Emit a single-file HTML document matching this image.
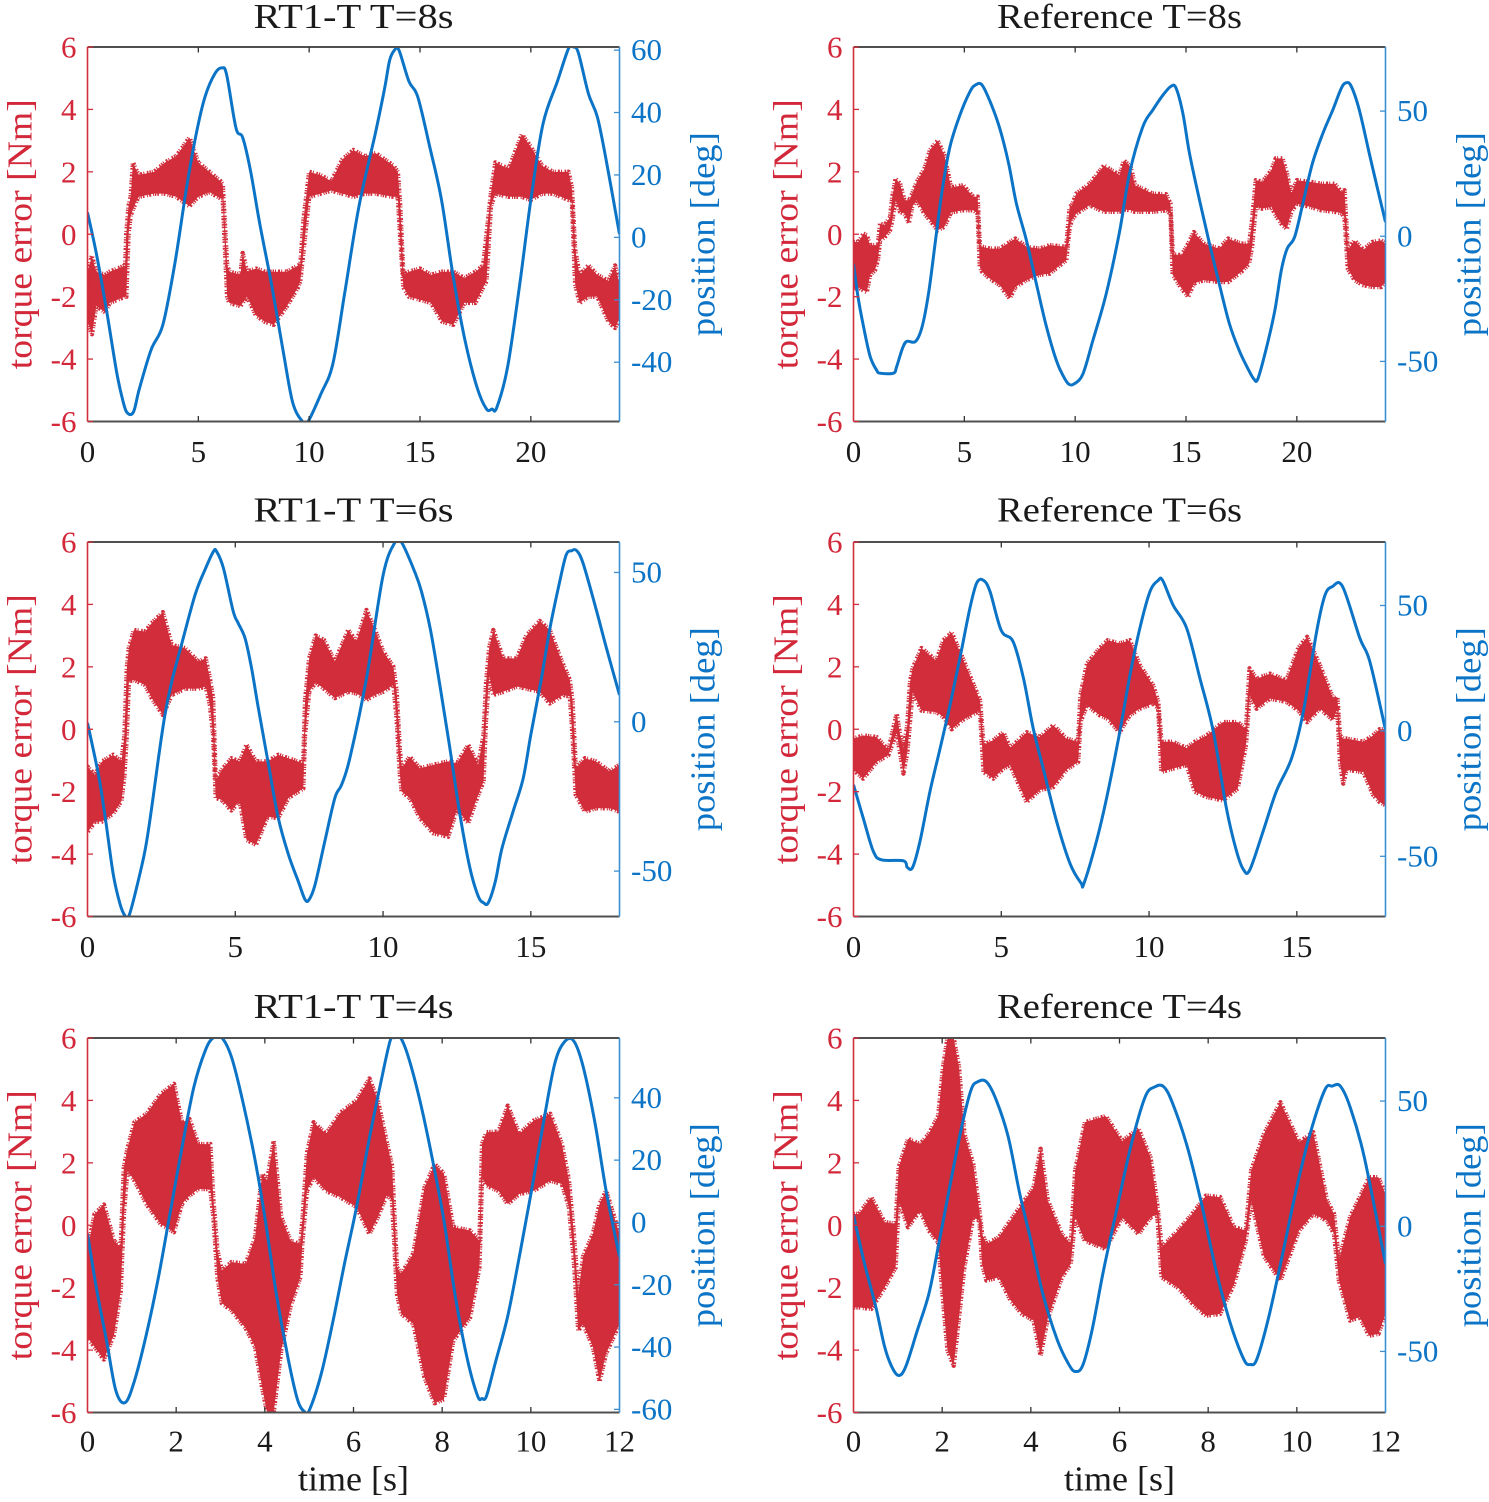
<!DOCTYPE html>
<html lang="en">
<head>
<meta charset="utf-8">
<title>Torque error and position: RT1-T vs Reference</title>
<style>
html,body{margin:0;padding:0;background:#fff;}
svg{display:block;}
text{font-family:"Liberation Serif",serif;}
</style>
</head>
<body>
<svg id="figure" xmlns="http://www.w3.org/2000/svg" width="1489" height="1502" viewBox="0 0 1489 1502"></svg>
<script>
// Shared tick labels
const torqueTicks = [-6, -4, -2, 0, 2, 4, 6];
const xTicksT8 = [0, 5, 10, 15, 20];
const xTicksT6 = [0, 5, 10, 15];
const xTicksT4 = [0, 2, 4, 6, 8, 10, 12];
const posTicksRt8 = [-40, -20, 0, 20, 40, 60];
const posTicksRt6 = [-50, 0, 50];
const posTicksRt4 = [-60, -40, -20, 0, 20, 40];
const posTicksRef = [-50, 0, 50];

// RT1-T T=8s
const rt8PosT = [0,.4,.85,1.3,1.55,1.77,2.07,2.34,2.87,3.4,3.94,4.47,4.9,5.3,5.75,6.07,6.28,6.7,7,7.35,7.77,8.3,8.84,9.26,9.7,9.95,10.54,11.07,11.6,12.24,13,13.4,13.63,13.85,14.05,14.5,14.9,15.44,15.97,16.5,17.03,17.57,18,18.25,18.46,18.95,19.5,20,20.55,21.2,21.7,21.93,22.15,22.6,23,23.4,24];
const rt8PosDeg = [8,-5.2,-23,-42.6,-51,-56,-56,-48.5,-36,-28,-8.4,16,33,45,52.5,54.3,52,35,32,21.5,4.4,-15,-37,-53,-59,-59,-50,-40.5,-18,9.7,33.8,47.6,56.7,60,60,50,45,29,12,-12.7,-33,-48,-55,-55,-54.6,-41.6,-15,12,36.4,50,60.5,61,59,46,38.6,24.7,1];
const rt8ErrT = [0,.2,.4,.8,1,1.7,1.75,1.85,1.95,2.05,2.3,3,3.5,4,4.6,5,5.5,6,6.1,6.3,6.4,6.9,7,7.2,7.6,8,8.4,9,9.5,9.6,9.75,10,10.5,11,11.5,12,12.5,13,13.8,14,14.1,14.25,14.5,15,15.5,16,16.5,17,17.5,17.85,18,18.2,18.4,19,19.6,20,20.5,21,21.7,21.85,22,22.2,22.6,23,23.5,23.8,24];
const rt8ErrHi = [-1.2,-.7,-1.2,-1.3,-1.2,-1,0,.9,1.2,2.3,1.9,2,2.3,2.5,3.1,2.3,2,1.7,1.6,-1,-1.2,-1.3,-.6,-1.2,-1.1,-1.2,-1.2,-1.2,-1,-1,.5,2,1.9,1.7,2.4,2.7,2.5,2.6,2.2,2,1,-1.3,-1.2,-1.1,-1.3,-1.2,-1.2,-1.4,-1.2,-1,0,1.3,2.3,2.1,3.2,2.8,2.2,2,2,1.5,-.5,-1.3,-1,-1.3,-1.5,-1,-1.6];
const rt8ErrLo = [-2.8,-3.2,-2.3,-2.5,-2.2,-2,-2,0,.6,.8,1.2,1.3,1.3,1.2,.9,1.2,1.35,1.15,1.15,-2,-2.2,-2.3,-2.2,-2,-2.6,-2.8,-2.9,-2.3,-1.7,-1.5,-.5,1.2,1.3,1.4,1.3,1.2,1.3,1.3,1.2,1.2,0,-1.7,-2,-2.1,-2.2,-2.8,-2.9,-2.2,-2.2,-1.7,-1.5,.9,1.3,1.2,1.2,1.1,1.3,1.3,1.1,1.1,-1.6,-2.2,-2,-2,-2.8,-3,-2.7];

// Reference T=8s
const ref8PosT = [0,.2,.45,.75,1.05,1.2,1.8,1.95,2.2,2.4,2.8,3.1,3.4,3.7,4,4.35,4.8,5.25,5.5,5.8,6.2,6.6,7,7.35,7.8,8.25,8.7,9.15,9.45,9.7,9.95,10.35,10.8,11.4,12,12.45,13.05,13.5,13.96,14.34,14.56,14.86,15.16,15.61,16.06,16.5,16.96,17.4,17.8,18.06,18.24,18.6,19,19.3,19.56,19.9,20.27,20.7,21.17,21.62,22,22.22,22.45,22.82,23.27,23.72,24];
const ref8PosDeg = [-11,-24,-36,-48,-53.6,-54.7,-54.7,-52,-45,-42,-42,-36,-22,-1.6,18.4,35.7,48.4,57.7,60.4,60.4,53,43,29,13,-1.6,-19,-36,-49.6,-55.6,-59,-59,-55,-41.6,-23,1.7,25,43.7,50.4,56.4,60,59,49,33,14.4,-3,-19,-35,-45.6,-53,-57,-57,-45.6,-30,-13.6,-5,-.3,13,29,41,50.4,59,61.3,60,50.4,33,16,5.7];
const ref8ErrT = [0,.22,.45,.6,.75,.97,1.1,1.2,1.4,1.65,1.75,1.9,2.1,2.3,2.5,2.65,2.85,3.2,3.45,3.8,4.1,4.4,4.95,5.4,5.6,5.7,5.8,6.15,6.6,7.05,7.3,7.8,8.4,8.85,9.6,9.75,9.85,10.05,10.65,11.3,12,12.2,12.5,12.7,13.5,14.1,14.3,14.4,14.5,14.8,15.1,15.35,15.8,16.5,16.9,17.5,17.85,17.98,18.15,18.45,18.85,19.05,19.35,19.55,19.75,20,20.6,21.1,21.7,22,22.15,22.3,22.6,23,23.4,23.8,24];
const ref8ErrHi = [-.25,-.25,.02,-.03,-.35,-.35,-.35,.34,.29,.55,1.2,1.78,1.62,1.09,1.09,1.3,1.67,2.1,2.7,3,2.53,1.5,1.57,1.2,1.2,-.4,-.4,-.46,-.46,-.25,-.14,-.4,-.46,-.35,-.4,.87,.93,1.3,1.62,2.2,1.9,2.37,2.16,1.57,1.3,1.28,.98,-.62,-.65,-.67,-.3,.07,-.3,-.46,-.14,-.3,-.3,.45,1.73,1.68,2.05,2.43,2.43,1.95,1.3,1.73,1.68,1.62,1.62,1.36,1.41,-.5,-.2,-.5,-.25,-.2,-.3];
const ref8ErrLo = [-1.75,-1.7,-1.8,-1.85,-1.3,-1.15,-.83,-.2,-.1,.13,.45,1.09,.72,.66,.36,.88,1.09,.66,.45,.13,.24,.7,.77,.77,.66,-1.05,-1.2,-1.42,-1.63,-2.06,-1.69,-1.47,-1.3,-1.26,-.83,.23,.45,.66,.93,.72,.72,.8,.77,.72,.72,.77,.66,-1.3,-1.4,-1.74,-2,-1.58,-1.47,-1.53,-1.53,-1.2,-.94,-.4,.88,.82,.88,.6,.29,.18,.72,.98,.88,.77,.72,.68,.55,-1.1,-1.47,-1.63,-1.69,-1.69,-1.53];

// RT1-T T=6s
const rt6PosT = [0,.37,.6,.87,1.1,1.27,1.4,1.6,1.94,2.17,2.4,2.62,2.85,3.18,3.64,3.97,4.26,4.37,4.6,4.93,5.1,5.33,5.55,5.78,6.1,6.45,6.8,7.13,7.36,7.5,7.7,8.03,8.37,8.6,8.88,9.44,10,10.4,10.63,11.08,11.3,11.6,11.92,12.26,12.6,12.94,13.22,13.4,13.56,13.8,14.02,14.4,14.74,15,15.36,15.64,16,16.2,16.38,16.55,16.77,17.2,17.56,18];
const rt6PosDeg = [-.4,-17.7,-32,-51,-61,-65,-65,-58,-43.4,-28.9,-12.2,2.3,13.5,25.8,42.5,50.8,57,57,51.4,37,33,28,18,4.6,-13,-32,-44.5,-53.4,-59.5,-59.5,-54.5,-40,-25.5,-21,-12,14.6,49,60,60,50,43.6,31,12.4,-8.8,-31,-49,-58.4,-60.6,-60.6,-53.4,-42.5,-30,-19,-4.3,14.6,31,48,56,57.3,57.3,53,38,24.6,9];
const rt6ErrT = [0,.25,.48,.87,1.15,1.25,1.33,1.4,1.57,1.95,2.17,2.55,2.85,3.3,3.75,4,4.14,4.25,4.34,4.54,4.87,5.15,5.38,5.7,6.1,6.45,6.8,7.3,7.36,7.5,7.72,8,8.37,8.82,9.1,9.44,9.73,10,10.35,10.46,10.57,10.63,10.9,11.25,11.7,12.2,12.5,12.88,13.22,13.4,13.48,13.59,13.73,14.07,14.52,14.85,15.3,15.64,16.1,16.32,16.41,16.52,16.83,17.2,17.67,18];
const rt6ErrHi = [-1.2,-1.46,-1.04,-.82,-1.04,-.18,1.95,2.6,3.18,3.13,3.4,3.75,2.7,2.6,2.17,2.27,1.63,1,-1.67,-1.3,-.93,-1.03,-.5,-1.03,-1.03,-.82,-.93,-1.09,.9,2.27,3,2.86,2.17,3.18,2.8,3.82,3.18,2.5,2,1.2,-.7,-1.25,-.88,-1.25,-1.14,-1.03,-1.09,-.5,-1.14,-.18,1.4,2.6,3.18,2.27,2.27,3,3.47,3.18,2.06,1.58,.9,-1.25,-.93,-1.03,-1.35,-1.14];
const rt6ErrLo = [-3.3,-2.96,-2.96,-2.7,-2.3,-1.46,-.18,1.53,1.58,1.42,1,.46,1.1,1.3,1.3,1.37,.78,-.18,-2.2,-2.26,-2.6,-2.3,-3.54,-3.7,-2.8,-2.85,-2.2,-1.9,-.18,1.2,1.5,1.3,1,1.2,1.15,.94,1.1,1.2,1.42,.35,-1.46,-2,-2.2,-2.85,-3.33,-3.44,-2.58,-3,-2.1,-1.68,.25,1.74,1.1,1.2,1.37,1.3,1.2,.83,1.1,1.05,-.18,-2.1,-2.64,-2.53,-2.53,-2.64];

// Reference T=6s
const ref6PosT = [0,.33,.67,.95,1.69,1.82,2,2.25,2.59,2.93,3.26,3.6,3.94,4.17,4.4,4.62,5,5.4,5.75,6.08,6.42,6.87,7.33,7.7,7.8,8.22,8.56,9,9.35,9.69,10.03,10.31,10.46,10.82,11.27,11.72,12.17,12.62,12.96,13.2,13.41,13.86,14.31,14.82,15.22,15.67,15.95,16.2,16.55,17.13,17.47,18];
const ref6PosDeg = [-21.5,-34.8,-48,-51.4,-51.8,-54.4,-54.4,-44,-24,-7,10,29,49,59,60,55.5,40,35.6,21,1,-15,-36,-53,-60.7,-60.7,-44,-27,-1,22,41,55.5,60,60,50,41,21,0,-31,-48,-55.4,-55.4,-40,-24,-11,7.7,39.6,54,57.5,57.5,37,27.6,.4];
const ref6ErrT = [0,.33,.78,1.18,1.46,1.57,1.69,1.82,1.91,2,2.3,2.8,3.04,3.32,3.7,4.28,4.4,4.73,5.07,5.3,5.86,6.3,6.76,7.2,7.6,7.68,7.9,8.33,8.6,9,9.35,9.69,10.14,10.31,10.42,10.8,11.27,11.55,11.95,12.5,13,13.28,13.4,13.64,14.09,14.65,15.05,15.35,15.78,16.23,16.37,16.46,16.57,16.68,17.25,17.58,17.8,18];
const ref6ErrHi = [-.3,-.2,-.25,-.67,.5,-.13,-.6,.13,1.5,1.95,2.6,2.2,2.85,3.1,2.26,.93,-.5,-.35,-.1,-.6,-.1,-.25,.13,-.3,-.4,1.1,2.1,2.6,2.85,2.75,2.85,2.05,1.4,.88,-.4,-.4,-.6,-.4,-.2,.23,.23,0,1.95,1.62,1.78,1.57,2.6,2.96,2.05,.98,1.04,-.2,-.3,-.3,-.4,-.2,0,0];
const ref6ErrLo = [-1.3,-1.58,-1.05,-.83,-.1,-.73,-1.42,-.73,.23,1.2,.6,.55,.4,0,.3,.6,-1.37,-1.58,-1.26,-1.15,-2.33,-1.95,-1.85,-1.3,-1.05,.23,.77,.45,.34,-.1,.45,.66,.82,.66,-1.37,-1.26,-1.15,-2,-2.17,-2.28,-1.9,-.5,1.09,.66,.98,.88,.6,.23,.66,.29,.66,-1.05,-1.74,-1.3,-1.37,-2.1,-2.33,-2.43];

// RT1-T T=4s
const rt4PosT = [0,.2,.43,.64,.85,1.06,1.33,1.6,1.86,2.13,2.4,2.66,2.84,3.03,3.25,3.5,3.78,4,4.26,4.53,4.74,4.9,5,5.27,5.54,5.8,6.07,6.34,6.6,6.82,6.92,7.06,7.24,7.5,7.77,8.04,8.3,8.57,8.8,8.9,9,9.2,9.48,9.74,10,10.28,10.54,10.76,10.97,11.18,11.45,11.7,12];
const rt4PosDeg = [-3.6,-21,-38,-54,-57.8,-50.8,-35.8,-17.6,2.8,24,43.5,55.3,59.3,59.3,53,39,20,1.7,-23,-44,-57,-60.8,-60.4,-48.7,-31.5,-13,5,25.7,43.8,58,59.3,59.3,53,39,21,.6,-24,-44,-55.7,-56.5,-55.7,-45,-30,-11,9,31.7,51,58,58.2,50,31.7,10,-11];
const rt4ErrT = [0,.16,.37,.6,.75,.82,.9,1.06,1.33,1.65,1.95,2.13,2.3,2.5,2.77,2.84,2.93,3.03,3.25,3.57,3.78,3.94,4.05,4.2,4.37,4.58,4.8,4.85,4.95,5.1,5.38,5.7,6.07,6.36,6.55,6.76,6.87,6.98,7.08,7.35,7.6,7.83,8.04,8.25,8.63,8.84,8.9,9,9.27,9.48,9.74,10.06,10.44,10.7,10.86,10.97,11.07,11.18,11.4,11.55,11.7,12];
const rt4ErrHi = [-.8,.36,.66,-.5,-.7,1.86,2.45,3.3,3.57,4.2,4.53,3.3,3.4,2.6,2.6,.8,-.8,-1.45,-1.18,-1.24,-.4,1.65,1.43,2.7,.26,-.5,-.6,.2,2.3,3.3,2.93,3.6,4,4.7,4,2.6,1.9,-1.35,-1.56,-.9,1.2,1.96,1.65,-.06,-.17,-.5,2.6,2.98,3,3.83,2.93,3.35,3.57,2.6,1.43,-.28,-2.2,-1,-.28,.68,1.1,-.28];
const rt4ErrLo = [-3.6,-3.9,-4.3,-3.5,-2.1,.36,1.75,1.43,.68,.04,-.22,.68,.95,1.16,1.16,.26,-1.67,-2.5,-2.73,-3.3,-3.9,-5.2,-6,-6,-4,-2.6,-1.67,-.5,1.1,1.54,1.1,.9,.58,-.28,.26,1,.8,-2.2,-2.84,-3.16,-4.87,-5.7,-5.57,-3.7,-2.95,-1.35,1.54,1.27,1.1,.68,1,1.1,1.43,1.32,.58,-1.13,-3.37,-3.16,-3.9,-5,-4.1,-3.16];

// Reference T=4s
const ref4PosT = [0,.23,.5,.7,.86,1.02,1.18,1.44,1.7,1.91,2.17,2.44,2.65,2.8,3,3.22,3.49,3.75,4,4.27,4.6,4.85,5,5.17,5.38,5.64,5.95,6.27,6.58,6.8,7,7.2,7.53,7.85,8.16,8.48,8.8,8.95,9.1,9.37,9.68,10,10.3,10.63,10.8,10.98,11.2,11.52,12];
const ref4PosDeg = [4.4,-13.6,-32,-48,-56,-59.6,-56,-41.6,-27,-8.3,15.7,39.7,54.4,57.7,57.7,50.4,35.7,13,-5.6,-27,-45.6,-55,-58,-55.6,-41.6,-17.6,7.7,33,51.7,55.7,55.7,49,31.7,9,-16.3,-37.6,-53,-55.2,-53,-36,-11,15.7,37,54.4,56,56,47.7,27.7,-15];
const ref4ErrT = [0,.12,.4,.7,.95,1.02,1.23,1.5,1.7,1.91,2.02,2.12,2.26,2.38,2.5,2.7,2.84,2.9,3,3.28,3.54,3.8,4.06,4.22,4.38,4.7,4.9,5,5.22,5.69,6.06,6.43,6.7,6.85,6.95,7.32,7.64,7.95,8.27,8.58,8.85,8.97,9.26,9.63,10.05,10.37,10.68,10.84,10.95,11.2,11.42,11.63,11.84,12];
const ref4ErrHi = [.36,.36,.9,.1,.04,1.86,2.77,2.6,2.93,3.5,5.06,6,6,5.06,2.93,1.96,.47,-.28,-.6,-.38,.15,.68,1.2,2.45,.8,-.28,-.6,1.75,3.3,3.5,2.7,3.09,2.17,.7,-.7,-.17,.36,.95,.9,-.06,-.17,1.75,2.93,3.94,2.66,2.98,.8,.36,-1.13,.26,.9,1.54,1.54,1];
const ref4ErrLo = [-2.63,-2.63,-2.68,-2,-1.35,.8,-.06,.47,-.17,-.55,-2.4,-4,-4.5,-2.95,-1.35,.25,.15,-1.24,-1.77,-1.67,-2.4,-2.84,-3.05,-4.18,-3,-1.67,-1.24,.25,-.5,-.76,.25,-.28,.25,.36,-1.67,-2,-2.5,-2.9,-2.84,-1.9,-.5,.8,-1,-1.77,-.17,.36,.15,-.28,-1.77,-3.05,-2.95,-3.54,-3.48,-2.84];

const RED = '#d12d3b';
const RED_TEXT = '#d2283a';
const BLUE = '#0b74c6';
const BLUE_SPINE = '#3b8fd2';
const DARK = '#505050';
const INK = '#1a1a1a';
const NS = 'http://www.w3.org/2000/svg';
const fig = document.getElementById('figure');

function add(parent, tag, attrs) {
  const el = document.createElementNS(NS, tag);
  for (const k in attrs) el.setAttribute(k, attrs[k]);
  parent.appendChild(el);
  return el;
}

function smoothPath(pts) {
  let d = 'M' + pts[0][0].toFixed(2) + ' ' + pts[0][1].toFixed(2);
  for (let i = 0; i < pts.length - 1; i++) {
    const p0 = pts[Math.max(i - 1, 0)];
    const p1 = pts[i];
    const p2 = pts[i + 1];
    const p3 = pts[Math.min(i + 2, pts.length - 1)];
    const c1x = p1[0] + (p2[0] - p0[0]) / 6;
    const c1y = p1[1] + (p2[1] - p0[1]) / 6;
    const c2x = p2[0] - (p3[0] - p1[0]) / 6;
    const c2y = p2[1] - (p3[1] - p1[1]) / 6;
    d += 'C' + c1x.toFixed(2) + ' ' + c1y.toFixed(2) + ' ' + c2x.toFixed(2) + ' ' + c2y.toFixed(2) + ' ' + p2[0].toFixed(2) + ' ' + p2[1].toFixed(2);
  }
  return d;
}

function drawPanel(cfg) {
  const L = cfg.left, R = cfg.left + 532, T = cfg.top, B = cfg.top + 374.5;
  const sx = v => L + (v / cfg.xMax) * (R - L);
  const sy = v => B - ((v + 6) / 12) * (B - T);
  const sp = v => B - ((v - cfg.posMin) / (cfg.posMax - cfg.posMin)) * (B - T);

  const g = add(fig, 'g', {});
  
  

  const clipId = cfg.id + '-clip';
  const defs = add(g, 'defs', {});
  const clip = add(defs, 'clipPath', { id: clipId });
  add(clip, 'rect', { x: L, y: T, width: R - L, height: B - T });

  // Torque error envelope, with a comb-dashed outline for the noisy edge
  const upper = [];
  const lower = [];
  const n = Math.min(cfg.errT.length, cfg.errHi.length, cfg.errLo.length);
  for (let i = 0; i < n; i++) {
    upper.push(sx(cfg.errT[i]).toFixed(2) + ',' + sy(cfg.errHi[i]).toFixed(2));
    lower.unshift(sx(cfg.errT[i]).toFixed(2) + ',' + sy(cfg.errLo[i]).toFixed(2));
  }
  const band = add(g, 'polygon', { points: upper.concat(lower).join(' '), fill: RED, stroke: RED, 'stroke-width': 4.5, 'stroke-dasharray': '1.4 1 1 2 2 1.2 1 2.6 1.6 1', 'stroke-linejoin': 'round', 'clip-path': 'url(#' + clipId + ')' });
  
  

  // Position line
  const pts = [];
  const m = Math.min(cfg.posT.length, cfg.posDeg.length);
  for (let i = 0; i < m; i++) pts.push([sx(cfg.posT[i]), sp(cfg.posDeg[i])]);
  const line = add(g, 'path', { d: smoothPath(pts), fill: 'none', stroke: BLUE, 'stroke-width': 3, 'stroke-linejoin': 'round', 'clip-path': 'url(#' + clipId + ')' });
  
  

  // Spines
  const topSpine = add(g, 'line', { x1: L, y1: T, x2: R, y2: T, stroke: DARK, 'stroke-width': 2 });
  
  
  const bottomSpine = add(g, 'line', { x1: L, y1: B, x2: R, y2: B, stroke: DARK, 'stroke-width': 2 });
  
  
  const leftSpine = add(g, 'line', { x1: L, y1: T, x2: L, y2: B, stroke: RED, 'stroke-width': 1.6 });
  
  
  const rightSpine = add(g, 'line', { x1: R, y1: T, x2: R, y2: B, stroke: BLUE_SPINE, 'stroke-width': 1.6 });
  
  

  // X ticks
  cfg.xTicks.forEach(v => {
    const x = sx(v);
    if (v !== 0 && v !== cfg.xMax) {
      add(g, 'line', { x1: x, y1: T, x2: x, y2: T + 5.5, stroke: '#333', 'stroke-width': 1.3 });
      add(g, 'line', { x1: x, y1: B, x2: x, y2: B - 5.5, stroke: '#333', 'stroke-width': 1.3 });
    }
    const t = add(g, 'text', { x: x, y: B + cfg.xLabelGap, 'text-anchor': 'middle', 'font-size': 31, fill: INK });
    t.textContent = String(v);
    
    
  });

  // Torque ticks
  torqueTicks.forEach(v => {
    const y = sy(v);
    add(g, 'line', { x1: L, y1: y, x2: L + 5.5, y2: y, stroke: RED, 'stroke-width': 1.3 });
    const t = add(g, 'text', { x: L - 11, y: y + 10.5, 'text-anchor': 'end', 'font-size': 31, fill: RED_TEXT });
    t.textContent = String(v);
    
    
  });

  // Position ticks
  cfg.posTicks.forEach(v => {
    const y = sp(v);
    add(g, 'line', { x1: R, y1: y, x2: R - 5.5, y2: y, stroke: BLUE_SPINE, 'stroke-width': 1.3 });
    const t = add(g, 'text', { x: R + 11.5, y: y + 10, 'text-anchor': 'start', 'font-size': 31, fill: BLUE });
    t.textContent = String(v);
    
    
  });

  // Title
  const title = add(g, 'text', { x: L + 266, y: T - cfg.titleGap, 'text-anchor': 'middle', 'font-size': 35, fill: INK, textLength: cfg.titleWidth, lengthAdjust: 'spacingAndGlyphs' });
  title.textContent = cfg.title;
  
  

  // Axis titles
  const midY = (T + B) / 2;
  const yl = add(g, 'text', { x: L - 56, y: midY, 'text-anchor': 'middle', 'font-size': 35, fill: RED_TEXT, textLength: 270, lengthAdjust: 'spacingAndGlyphs', transform: 'rotate(-90 ' + (L - 56) + ' ' + midY + ')' });
  yl.textContent = 'torque error [Nm]';
  
  
  const yr = add(g, 'text', { x: R + 95, y: midY, 'text-anchor': 'middle', 'font-size': 35, fill: BLUE, textLength: 204, lengthAdjust: 'spacingAndGlyphs', transform: 'rotate(-90 ' + (R + 95) + ' ' + midY + ')' });
  yr.textContent = 'position [deg]';
  
  
  if (cfg.timeLabel) {
    const xl = add(g, 'text', { x: L + 266, y: B + 78, 'text-anchor': 'middle', 'font-size': 35, fill: INK, textLength: 111, lengthAdjust: 'spacingAndGlyphs' });
    xl.textContent = 'time [s]';
    
    
  }
}

drawPanel({ id: 'rt1t-t8', title: 'RT1-T T=8s', titleWidth: 200, titleGap: 19, xLabelGap: 40.5, left: 87.5, top: 47, xMax: 24, xTicks: xTicksT8, posMin: -59, posMax: 61, posTicks: posTicksRt8, posT: rt8PosT, posDeg: rt8PosDeg, errT: rt8ErrT, errHi: rt8ErrHi, errLo: rt8ErrLo });
drawPanel({ id: 'reference-t8', title: 'Reference T=8s', titleWidth: 245, titleGap: 19, xLabelGap: 40.5, left: 853.5, top: 47, xMax: 24, xTicks: xTicksT8, posMin: -74, posMax: 75.6, posTicks: posTicksRef, posT: ref8PosT, posDeg: ref8PosDeg, errT: ref8ErrT, errHi: ref8ErrHi, errLo: ref8ErrLo });
drawPanel({ id: 'rt1t-t6', title: 'RT1-T T=6s', titleWidth: 200, titleGap: 20.5, xLabelGap: 40.5, left: 87.5, top: 542, xMax: 18, xTicks: xTicksT6, posMin: -65.2, posMax: 60.2, posTicks: posTicksRt6, posT: rt6PosT, posDeg: rt6PosDeg, errT: rt6ErrT, errHi: rt6ErrHi, errLo: rt6ErrLo });
drawPanel({ id: 'reference-t6', title: 'Reference T=6s', titleWidth: 245, titleGap: 20.5, xLabelGap: 40.5, left: 853.5, top: 542, xMax: 18, xTicks: xTicksT6, posMin: -74, posMax: 75.3, posTicks: posTicksRef, posT: ref6PosT, posDeg: ref6PosDeg, errT: ref6ErrT, errHi: ref6ErrHi, errLo: ref6ErrLo });
drawPanel({ id: 'rt1t-t4', title: 'RT1-T T=4s', titleWidth: 200, titleGap: 20, xLabelGap: 39, left: 87.5, top: 1038, xMax: 12, xTicks: xTicksT4, posMin: -61, posMax: 59.2, posTicks: posTicksRt4, posT: rt4PosT, posDeg: rt4PosDeg, errT: rt4ErrT, errHi: rt4ErrHi, errLo: rt4ErrLo, timeLabel: true });
drawPanel({ id: 'reference-t4', title: 'Reference T=4s', titleWidth: 245, titleGap: 20, xLabelGap: 39, left: 853.5, top: 1038, xMax: 12, xTicks: xTicksT4, posMin: -74.4, posMax: 75.2, posTicks: posTicksRef, posT: ref4PosT, posDeg: ref4PosDeg, errT: ref4ErrT, errHi: ref4ErrHi, errLo: ref4ErrLo, timeLabel: true });
</script>
</body>
</html>
